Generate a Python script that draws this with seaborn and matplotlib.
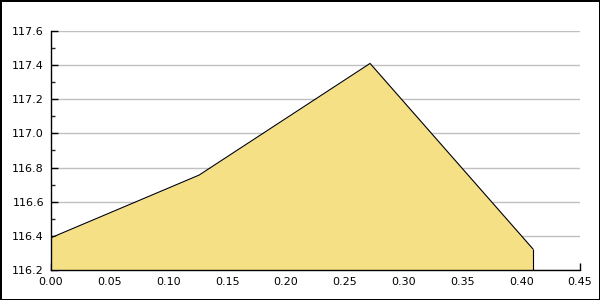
import matplotlib
matplotlib.use("Agg")
import matplotlib.pyplot as plt
import seaborn as sns
import pandas as pd
from matplotlib.ticker import MultipleLocator

x_vals = [0.0, 0.126, 0.2714, 0.41]
y_vals = [116.389, 116.756, 117.41, 116.323]

sns.set_style("white")
plt.rcParams['font.family'] = ['DejaVu Sans']

df = pd.DataFrame({"x": x_vals, "y": y_vals})

fig = plt.figure(figsize=(6, 3), dpi=100, facecolor="white",
                 edgecolor="black", linewidth=2)
ax = fig.add_axes([0.085, 0.1, 0.8817, 0.7967])

ax.fill_between(df["x"], df["y"], 116.2, color="#F6E085", linewidth=0, zorder=2)
sns.lineplot(data=df, x="x", y="y", ax=ax, color="black", linewidth=0.8, zorder=3)
ax.vlines(x_vals[-1], 116.2, y_vals[-1], color="black", linewidth=0.8, zorder=3)

ax.set_xlim(0, 0.45)
ax.set_ylim(116.2, 117.6)
ax.xaxis.set_major_locator(MultipleLocator(0.05))
ax.yaxis.set_major_locator(MultipleLocator(0.2))
ax.yaxis.set_minor_locator(MultipleLocator(0.1))
ax.xaxis.set_major_formatter(matplotlib.ticker.FormatStrFormatter('%.2f'))
ax.yaxis.set_major_formatter(matplotlib.ticker.FormatStrFormatter('%.1f'))
ax.grid(axis="y", color="#C0C0C0", linewidth=1, zorder=1)
ax.set_axisbelow(True)
ax.tick_params(axis="both", which="major", direction="in", length=5, width=1,
               labelsize=8, colors="black", pad=5)
ax.tick_params(axis="y", which="minor", direction="in", length=3, width=1, left=True)
ax.tick_params(axis="x", which="both", bottom=True)
ax.tick_params(axis="y", which="both", left=True)
for s in ["top", "right"]:
    ax.spines[s].set_visible(False)
for s in ["left", "bottom"]:
    ax.spines[s].set_color("black")
    ax.spines[s].set_linewidth(1)
ax.set_xlabel("")
ax.set_ylabel("")

fig.savefig("out.png", dpi=100, facecolor="white", edgecolor="black")
